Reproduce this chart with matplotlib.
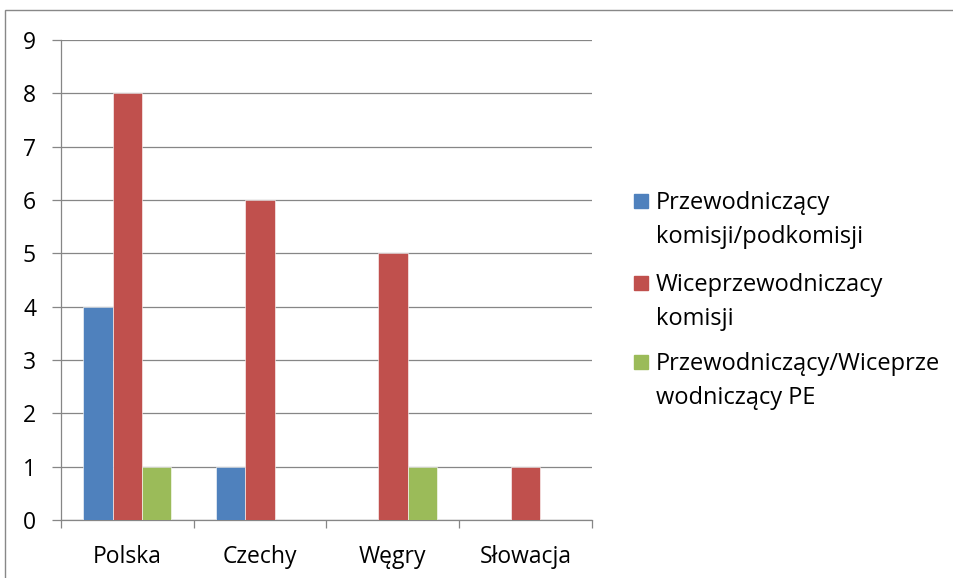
import matplotlib.pyplot as plt
from matplotlib.patches import Rectangle
import numpy as np

plt.rcParams['font.family'] = ['Open Sans', 'DejaVu Sans']

# Data
countries = ['Polska', 'Czechy', 'Węgry', 'Słowacja']
series_names = ['Przewodniczący\nkomisji/podkomisji',
                'Wiceprzewodniczacy\nkomisji',
                'Przewodniczący/Wiceprze\nwodniczący PE']
chairs = [4, 1, 0, 0]
vice_chairs = [8, 6, 5, 1]
ep_presidium = [1, 0, 1, 0]
colors = ['#4F81BD', '#C0504D', '#9BBB59']

W, H = 954, 578
fig = plt.figure(figsize=(W / 100, H / 100), dpi=100)
ax = fig.add_axes([61 / W, 1 - 520 / H, 531 / W, 480 / H])

x = np.arange(len(countries))
bw = 0.221
for i, vals in enumerate([chairs, vice_chairs, ep_presidium]):
    ax.bar(x + (i - 1) * bw, vals, bw, color=colors[i], zorder=3,
           edgecolor='white', linewidth=0.4)

ax.set_xlim(-0.5, len(countries) - 0.5)
ax.set_ylim(0, 9)
ax.set_yticks(range(10))
ax.set_xticks(x)
ax.set_xticklabels(countries)
ax.set_xticks(np.arange(-0.5, len(countries)), minor=True)

grid_c = '#868686'
ax.yaxis.grid(True, color=grid_c, linewidth=0.9, zorder=0)
for s in ['top', 'right']:
    ax.spines[s].set_visible(False)
for s in ['left', 'bottom']:
    ax.spines[s].set_color(grid_c)
    ax.spines[s].set_linewidth(0.9)

fs = 16.5
ax.tick_params(axis='y', length=6.5, width=0.9, color=grid_c, pad=11.5, labelsize=fs)
ax.tick_params(axis='x', which='major', length=0, pad=18, labelsize=fs)
ax.tick_params(axis='x', which='minor', length=5.5, width=0.9, color=grid_c)

# legend drawn by hand, marker aligned with first line of each label
marker_y = [201, 283, 362]
line_gap = 34
for i, name in enumerate(series_names):
    y0 = marker_y[i]
    fig.patches.append(Rectangle((634 / W, 1 - (y0 + 7) / H), 14 / W, 14 / H,
                                 transform=fig.transFigure, color=colors[i]))
    for j, line in enumerate(name.split('\n')):
        fig.text(656 / W, 1 - (y0 + 8 + j * line_gap) / H, line, fontsize=17,
                 va='baseline', ha='left')

# chart border
fig.patches.append(Rectangle((5 / W, -0.1), 1.2, 1 - 10 / H + 0.1,
                             transform=fig.transFigure, fill=False,
                             edgecolor='#888888', linewidth=1))

fig.savefig('out.png', dpi=100)
